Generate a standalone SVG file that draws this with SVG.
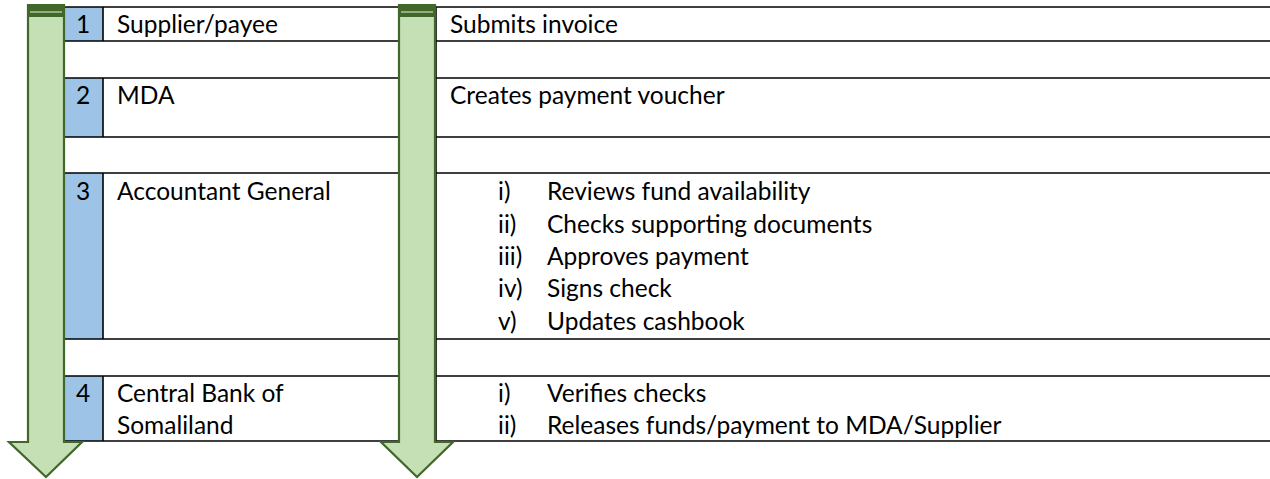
<svg xmlns="http://www.w3.org/2000/svg" width="1270" height="479" viewBox="0 0 1270 479">
<style>
.t{font-family:Lato,"Noto Sans",sans-serif;font-size:24.5px;fill:#000}
.ln{stroke:#000;stroke-width:1.6;fill:none}
.num{fill:#9dc3e6}
.arr{fill:#c5e0b4;stroke:#41672a;stroke-width:2.2;stroke-linejoin:miter}
.band{fill:#41672a}
.hl{stroke:#c5e0b4;stroke-width:1.2}
</style>
<rect width="1270" height="479" fill="#fff"/>
<g id="grid">
<rect class="num" x="63" y="7" width="40" height="34"/>
<rect class="num" x="63" y="78" width="40" height="59"/>
<rect class="num" x="63" y="173" width="40" height="166"/>
<rect class="num" x="63" y="376" width="40" height="65"/>
<path class="ln" d="M63,7H1270M63,41H1270M63,78H1270M63,137H1270M63,173H1270M63,339H1270M63,376H1270M63,441H1270"/>
<path class="ln" d="M103,7V41M103,78V137M103,173V339M103,376V441M436,7V441"/>
</g>
<g id="step1">
<text class="t" x="76" y="33">1</text>
<text class="t" x="117" y="33">Supplier/payee</text>
<text class="t" x="450" y="33">Submits invoice</text>
</g>
<g id="step2">
<text class="t" x="76" y="104">2</text>
<text class="t" x="117" y="104">MDA</text>
<text class="t" x="450" y="104">Creates payment voucher</text>
</g>
<g id="step3">
<text class="t" x="76" y="200">3</text>
<text class="t" x="117" y="200">Accountant General</text>
<text class="t" x="498" y="200">i)</text><text class="t" x="547" y="200">Reviews fund availability</text>
<text class="t" x="498" y="232.5">ii)</text><text class="t" x="547" y="232.5">Checks supporting documents</text>
<text class="t" x="498" y="265">iii)</text><text class="t" x="547" y="265">Approves payment</text>
<text class="t" x="498" y="297">iv)</text><text class="t" x="547" y="297">Signs check</text>
<text class="t" x="498" y="330">v)</text><text class="t" x="547" y="330">Updates cashbook</text>
</g>
<g id="step4">
<text class="t" x="76" y="402">4</text>
<text class="t" x="117" y="402">Central Bank of</text>
<text class="t" x="117" y="434">Somaliland</text>
<text class="t" x="498" y="402">i)</text><text class="t" x="547" y="402">Verifies checks</text>
<text class="t" x="498" y="434">ii)</text><text class="t" x="547" y="434">Releases funds/payment to MDA/Supplier</text>
</g>
<g id="connectors">
<g id="arrow-left">
<path class="arr" d="M28,5H64V442H82L46,477L9,442H28Z"/>
<rect class="band" x="27" y="4" width="38" height="13"/>
<line class="hl" x1="30" y1="12" x2="62" y2="12"/>
</g>
<g id="arrow-right">
<path class="arr" d="M399,5H435V442H453L417,477L381,442H399Z"/>
<rect class="band" x="398" y="4" width="38" height="13"/>
<line class="hl" x1="401" y1="12" x2="433" y2="12"/>
</g>
</g>
</svg>
